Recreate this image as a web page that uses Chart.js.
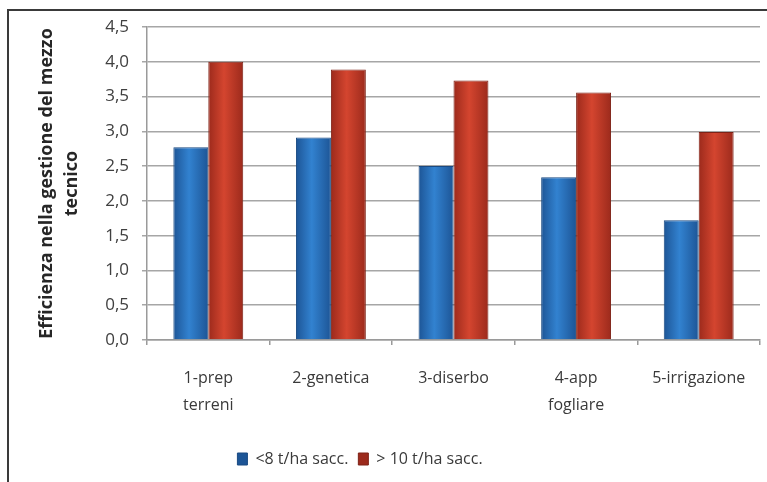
<!DOCTYPE html>
<html lang="it">
<head>
  <meta charset="UTF-8">
  <title>Efficienza nella gestione del mezzo tecnico</title>
  <script src="https://cdn.jsdelivr.net/npm/chart.js"></script>
  <style>
    body { margin: 0; background: #fff; }
    .wrap { position: relative; width: 767px; height: 482px; overflow: hidden; }
    .frame {
      position: absolute; left: 7px; top: 9px; width: 800px; height: 500px;
      border-top: 2px solid #3a3a3a; border-left: 2px solid #3a3a3a;
    }
    canvas { position: absolute; left: 0; top: 0; }
  </style>
</head>
<body>
  <div class="wrap">
    <div class="frame"></div>
    <canvas id="chart" width="767" height="482"></canvas>
  </div>

  <script>
    // data
    const categories = [['1-prep', 'terreni'], '2-genetica', '3-diserbo', ['4-app', 'fogliare'], '5-irrigazione'];
    const seriesNames = ['<8 t/ha sacc.', '> 10 t/ha sacc.'];
    const lowYield = [2.77, 2.91, 2.50, 2.34, 1.72];
    const highYield = [4.00, 3.89, 3.73, 3.56, 2.99];
    const yTicks = [0, 0.5, 1, 1.5, 2, 2.5, 3, 3.5, 4, 4.5];

    const catPct = 0.57;
    const font = '"Open Sans", Lato, sans-serif';

    // horizontal shading like the Excel bars
    const barFill = (base, edge, mid) => (ctx) => {
      const chart = ctx.chart;
      const xs = chart.scales.x;
      if (!xs || ctx.dataIndex === undefined || !xs.width) return base;
      const bw = (xs.width / categories.length) * catPct / 2;
      const center = xs.getPixelForValue(ctx.dataIndex) + (ctx.datasetIndex - 0.5) * bw;
      const g = chart.ctx.createLinearGradient(center - bw / 2, 0, center + bw / 2, 0);
      g.addColorStop(0, edge);
      g.addColorStop(0.45, mid);
      g.addColorStop(1, edge);
      return g;
    };

    // shift legend a bit to the left, as in the original
    const legendShift = {
      id: 'legendShift',
      afterLayout(chart) {
        chart.legend.left -= 35;
        chart.legend.right -= 35;
      }
    };

    new Chart(document.getElementById('chart'), {
      type: 'bar',
      data: {
        labels: categories,
        datasets: [
          {
            label: seriesNames[0],
            data: lowYield,
            backgroundColor: barFill('#2a6db8', '#1d5596', '#3282d0'),
            borderColor: '#1a4a82',
            borderWidth: 1
          },
          {
            label: seriesNames[1],
            data: highYield,
            backgroundColor: barFill('#c63c2c', '#9c2a1c', '#d4452f'),
            borderColor: '#7e2216',
            borderWidth: 1
          }
        ]
      },
      options: {
        responsive: false,
        animation: false,
        categoryPercentage: catPct,
        barPercentage: 1,
        layout: { padding: { left: 30, right: 7, top: 27, bottom: 5 } },
        plugins: {
          legend: {
            position: 'bottom',
            labels: {
              boxWidth: 10,
              boxHeight: 12,
              padding: 10,
              color: '#3a3a3a',
              font: { family: font, size: 16 }
            }
          },
          tooltip: { enabled: false }
        },
        scales: {
          x: {
            afterFit: (s) => { s.height = 101; },
            grid: {
              offset: true,
              drawOnChartArea: false,
              tickLength: 5,
              color: '#9a9a9a',
              lineWidth: 1.5
            },
            border: { color: '#9a9a9a', width: 1.5 },
            ticks: {
              color: '#3a3a3a',
              padding: 20,
              maxRotation: 0,
              font: { family: font, size: 16, lineHeight: 1.7 }
            }
          },
          y: {
            min: 0,
            max: 4.5,
            afterFit: (s) => { s.width = 117; },
            afterBuildTicks: (s) => { s.ticks = yTicks.map(v => ({ value: v })); },
            grid: { color: '#a6a6a6', lineWidth: 1.5, tickLength: 5 },
            border: { color: '#9a9a9a', width: 1.5 },
            ticks: {
              color: '#404040',
              padding: 13,
              font: { family: font, size: 17 },
              callback: (v) => v.toFixed(1).replace('.', ',')
            },
            title: {
              display: true,
              text: ['Efficienza nella gestione del mezzo', 'tecnico'],
              color: '#262626',
              padding: { top: 4, bottom: 0 },
              font: { family: font, size: 18, weight: 'bold', lineHeight: 1.39 }
            }
          }
        }
      },
      plugins: [legendShift]
    });
  </script>
</body>
</html>
